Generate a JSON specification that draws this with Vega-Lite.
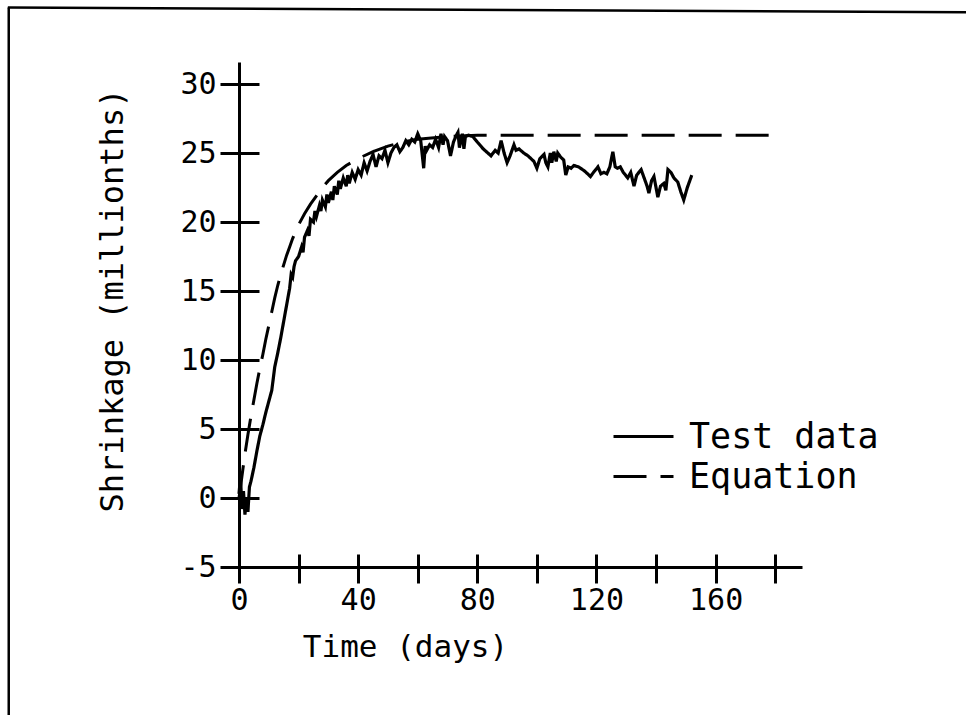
{
  "$schema": "https://vega.github.io/schema/vega-lite/v6.json",
  "autosize": {"type": "none"},
  "padding": {"left": 239, "top": 62, "right": 164, "bottom": 148},
  "width": 563,
  "height": 505,
  "background": "white",
  "config": {
    "font": "DejaVu Sans Mono",
    "view": {"stroke": null},
    "axis": {
      "labelFont": "DejaVu Sans Mono",
      "titleFont": "DejaVu Sans Mono",
      "labelColor": "black",
      "titleColor": "black",
      "tickColor": "black",
      "domainColor": "black",
      "grid": false,
      "titleFontWeight": "normal"
    }
  },
  "datasets": {
    "lines": [
      {"day": 0, "shrinkage": 0.3, "series": "Test data"},
      {"day": 0.5, "shrinkage": 1.5, "series": "Test data"},
      {"day": 1, "shrinkage": -0.8, "series": "Test data"},
      {"day": 1.5, "shrinkage": 0.5, "series": "Test data"},
      {"day": 2, "shrinkage": -1.2, "series": "Test data"},
      {"day": 2.5, "shrinkage": 0, "series": "Test data"},
      {"day": 3, "shrinkage": -1, "series": "Test data"},
      {"day": 3.5, "shrinkage": 0.8, "series": "Test data"},
      {"day": 4, "shrinkage": 1.2, "series": "Test data"},
      {"day": 5, "shrinkage": 2.2, "series": "Test data"},
      {"day": 6, "shrinkage": 3.4, "series": "Test data"},
      {"day": 7, "shrinkage": 4.5, "series": "Test data"},
      {"day": 8, "shrinkage": 5.3, "series": "Test data"},
      {"day": 9, "shrinkage": 6.2, "series": "Test data"},
      {"day": 10, "shrinkage": 7.0, "series": "Test data"},
      {"day": 11, "shrinkage": 7.8, "series": "Test data"},
      {"day": 12, "shrinkage": 9.5, "series": "Test data"},
      {"day": 12.5, "shrinkage": 10.0, "series": "Test data"},
      {"day": 13, "shrinkage": 10.5, "series": "Test data"},
      {"day": 14, "shrinkage": 11.6, "series": "Test data"},
      {"day": 15, "shrinkage": 12.8, "series": "Test data"},
      {"day": 16, "shrinkage": 14.0, "series": "Test data"},
      {"day": 17, "shrinkage": 15.2, "series": "Test data"},
      {"day": 17.5, "shrinkage": 16.2, "series": "Test data"},
      {"day": 18, "shrinkage": 16.0, "series": "Test data"},
      {"day": 18.5, "shrinkage": 16.8, "series": "Test data"},
      {"day": 19, "shrinkage": 17.2, "series": "Test data"},
      {"day": 20, "shrinkage": 17.5, "series": "Test data"},
      {"day": 21, "shrinkage": 18.2, "series": "Test data"},
      {"day": 21.5, "shrinkage": 17.8, "series": "Test data"},
      {"day": 22, "shrinkage": 18.9, "series": "Test data"},
      {"day": 23, "shrinkage": 19.4, "series": "Test data"},
      {"day": 23.5, "shrinkage": 19.0, "series": "Test data"},
      {"day": 24, "shrinkage": 20.2, "series": "Test data"},
      {"day": 25, "shrinkage": 20.0, "series": "Test data"},
      {"day": 25.5, "shrinkage": 20.8, "series": "Test data"},
      {"day": 26, "shrinkage": 20.4, "series": "Test data"},
      {"day": 27, "shrinkage": 21.2, "series": "Test data"},
      {"day": 27.5, "shrinkage": 20.8, "series": "Test data"},
      {"day": 28, "shrinkage": 21.6, "series": "Test data"},
      {"day": 29, "shrinkage": 21.1, "series": "Test data"},
      {"day": 29.5, "shrinkage": 22.0, "series": "Test data"},
      {"day": 30, "shrinkage": 21.4, "series": "Test data"},
      {"day": 31, "shrinkage": 22.2, "series": "Test data"},
      {"day": 31.5, "shrinkage": 21.6, "series": "Test data"},
      {"day": 32, "shrinkage": 22.6, "series": "Test data"},
      {"day": 33, "shrinkage": 22.0, "series": "Test data"},
      {"day": 33.5, "shrinkage": 23.0, "series": "Test data"},
      {"day": 34, "shrinkage": 22.4, "series": "Test data"},
      {"day": 35, "shrinkage": 23.2, "series": "Test data"},
      {"day": 36, "shrinkage": 22.6, "series": "Test data"},
      {"day": 36.5, "shrinkage": 23.4, "series": "Test data"},
      {"day": 37, "shrinkage": 22.8, "series": "Test data"},
      {"day": 38, "shrinkage": 23.6, "series": "Test data"},
      {"day": 39, "shrinkage": 23.1, "series": "Test data"},
      {"day": 40, "shrinkage": 23.8, "series": "Test data"},
      {"day": 41, "shrinkage": 23.4, "series": "Test data"},
      {"day": 42, "shrinkage": 24.3, "series": "Test data"},
      {"day": 43, "shrinkage": 23.7, "series": "Test data"},
      {"day": 44, "shrinkage": 24.4, "series": "Test data"},
      {"day": 45, "shrinkage": 24.9, "series": "Test data"},
      {"day": 46, "shrinkage": 24.0, "series": "Test data"},
      {"day": 47, "shrinkage": 24.8, "series": "Test data"},
      {"day": 48, "shrinkage": 24.6, "series": "Test data"},
      {"day": 49, "shrinkage": 25.2, "series": "Test data"},
      {"day": 50, "shrinkage": 24.3, "series": "Test data"},
      {"day": 51, "shrinkage": 25.0, "series": "Test data"},
      {"day": 52, "shrinkage": 25.4, "series": "Test data"},
      {"day": 53, "shrinkage": 25.6, "series": "Test data"},
      {"day": 54, "shrinkage": 25.1, "series": "Test data"},
      {"day": 55, "shrinkage": 25.4, "series": "Test data"},
      {"day": 56, "shrinkage": 25.9, "series": "Test data"},
      {"day": 57, "shrinkage": 25.6, "series": "Test data"},
      {"day": 58, "shrinkage": 26.0, "series": "Test data"},
      {"day": 59, "shrinkage": 25.8, "series": "Test data"},
      {"day": 60, "shrinkage": 26.4, "series": "Test data"},
      {"day": 61, "shrinkage": 25.9, "series": "Test data"},
      {"day": 62, "shrinkage": 23.9, "series": "Test data"},
      {"day": 62.5, "shrinkage": 25.5, "series": "Test data"},
      {"day": 63, "shrinkage": 25.2, "series": "Test data"},
      {"day": 64, "shrinkage": 25.6, "series": "Test data"},
      {"day": 65, "shrinkage": 25.4, "series": "Test data"},
      {"day": 66, "shrinkage": 26.0, "series": "Test data"},
      {"day": 67, "shrinkage": 25.4, "series": "Test data"},
      {"day": 67.8, "shrinkage": 26.4, "series": "Test data"},
      {"day": 68.5, "shrinkage": 25.6, "series": "Test data"},
      {"day": 69, "shrinkage": 26.2, "series": "Test data"},
      {"day": 70, "shrinkage": 25.9, "series": "Test data"},
      {"day": 71, "shrinkage": 24.8, "series": "Test data"},
      {"day": 72, "shrinkage": 25.8, "series": "Test data"},
      {"day": 73, "shrinkage": 26.3, "series": "Test data"},
      {"day": 73.5, "shrinkage": 26.5, "series": "Test data"},
      {"day": 74, "shrinkage": 25.4, "series": "Test data"},
      {"day": 75, "shrinkage": 26.4, "series": "Test data"},
      {"day": 75.5, "shrinkage": 25.3, "series": "Test data"},
      {"day": 76, "shrinkage": 26.2, "series": "Test data"},
      {"day": 77, "shrinkage": 26.3, "series": "Test data"},
      {"day": 78.5, "shrinkage": 26.2, "series": "Test data"},
      {"day": 80, "shrinkage": 25.8, "series": "Test data"},
      {"day": 82, "shrinkage": 25.3, "series": "Test data"},
      {"day": 84.6, "shrinkage": 24.8, "series": "Test data"},
      {"day": 86, "shrinkage": 25.2, "series": "Test data"},
      {"day": 87, "shrinkage": 25.0, "series": "Test data"},
      {"day": 88, "shrinkage": 25.9, "series": "Test data"},
      {"day": 89, "shrinkage": 25.0, "series": "Test data"},
      {"day": 90, "shrinkage": 24.3, "series": "Test data"},
      {"day": 91, "shrinkage": 24.8, "series": "Test data"},
      {"day": 92.3, "shrinkage": 25.6, "series": "Test data"},
      {"day": 93, "shrinkage": 25.2, "series": "Test data"},
      {"day": 94, "shrinkage": 25.3, "series": "Test data"},
      {"day": 95.6, "shrinkage": 25.0, "series": "Test data"},
      {"day": 97, "shrinkage": 24.8, "series": "Test data"},
      {"day": 98, "shrinkage": 24.6, "series": "Test data"},
      {"day": 99, "shrinkage": 24.4, "series": "Test data"},
      {"day": 100, "shrinkage": 23.9, "series": "Test data"},
      {"day": 101, "shrinkage": 24.6, "series": "Test data"},
      {"day": 102.4, "shrinkage": 24.9, "series": "Test data"},
      {"day": 103, "shrinkage": 24.3, "series": "Test data"},
      {"day": 103.7, "shrinkage": 24.0, "series": "Test data"},
      {"day": 104.5, "shrinkage": 25.0, "series": "Test data"},
      {"day": 105, "shrinkage": 24.3, "series": "Test data"},
      {"day": 105.7, "shrinkage": 25.1, "series": "Test data"},
      {"day": 106.5, "shrinkage": 24.4, "series": "Test data"},
      {"day": 107, "shrinkage": 25.0, "series": "Test data"},
      {"day": 108, "shrinkage": 24.7, "series": "Test data"},
      {"day": 109, "shrinkage": 24.5, "series": "Test data"},
      {"day": 109.7, "shrinkage": 23.4, "series": "Test data"},
      {"day": 110.5, "shrinkage": 24.0, "series": "Test data"},
      {"day": 111.5, "shrinkage": 23.9, "series": "Test data"},
      {"day": 112.4, "shrinkage": 24.1, "series": "Test data"},
      {"day": 114, "shrinkage": 24.0, "series": "Test data"},
      {"day": 116, "shrinkage": 23.7, "series": "Test data"},
      {"day": 118, "shrinkage": 23.3, "series": "Test data"},
      {"day": 119, "shrinkage": 23.6, "series": "Test data"},
      {"day": 120.5, "shrinkage": 24.0, "series": "Test data"},
      {"day": 121.5, "shrinkage": 23.5, "series": "Test data"},
      {"day": 122.5, "shrinkage": 23.6, "series": "Test data"},
      {"day": 123.5, "shrinkage": 23.5, "series": "Test data"},
      {"day": 124.5, "shrinkage": 24.0, "series": "Test data"},
      {"day": 125.5, "shrinkage": 25.1, "series": "Test data"},
      {"day": 126.3, "shrinkage": 24.0, "series": "Test data"},
      {"day": 127, "shrinkage": 23.9, "series": "Test data"},
      {"day": 128, "shrinkage": 24.0, "series": "Test data"},
      {"day": 129, "shrinkage": 23.6, "series": "Test data"},
      {"day": 130.5, "shrinkage": 23.2, "series": "Test data"},
      {"day": 131.5, "shrinkage": 23.6, "series": "Test data"},
      {"day": 132.6, "shrinkage": 22.6, "series": "Test data"},
      {"day": 133.5, "shrinkage": 23.4, "series": "Test data"},
      {"day": 135, "shrinkage": 23.8, "series": "Test data"},
      {"day": 136, "shrinkage": 23.2, "series": "Test data"},
      {"day": 137, "shrinkage": 22.6, "series": "Test data"},
      {"day": 137.6, "shrinkage": 22.1, "series": "Test data"},
      {"day": 138.5, "shrinkage": 23.0, "series": "Test data"},
      {"day": 139.3, "shrinkage": 23.3, "series": "Test data"},
      {"day": 140, "shrinkage": 22.5, "series": "Test data"},
      {"day": 140.6, "shrinkage": 21.8, "series": "Test data"},
      {"day": 141.5, "shrinkage": 22.6, "series": "Test data"},
      {"day": 142.6, "shrinkage": 22.8, "series": "Test data"},
      {"day": 143.3, "shrinkage": 22.3, "series": "Test data"},
      {"day": 144, "shrinkage": 23.8, "series": "Test data"},
      {"day": 145, "shrinkage": 23.6, "series": "Test data"},
      {"day": 146, "shrinkage": 23.2, "series": "Test data"},
      {"day": 147.3, "shrinkage": 22.9, "series": "Test data"},
      {"day": 148.3, "shrinkage": 22.2, "series": "Test data"},
      {"day": 149.3, "shrinkage": 21.6, "series": "Test data"},
      {"day": 150.5, "shrinkage": 22.5, "series": "Test data"},
      {"day": 152, "shrinkage": 23.4, "series": "Test data"},
      {"day": 0, "shrinkage": 0, "series": "Equation"},
      {"day": 1, "shrinkage": 1.6, "series": "Equation"},
      {"day": 2, "shrinkage": 3.2, "series": "Equation"},
      {"day": 3, "shrinkage": 4.6, "series": "Equation"},
      {"day": 4, "shrinkage": 5.9, "series": "Equation"},
      {"day": 5, "shrinkage": 7.1, "series": "Equation"},
      {"day": 6, "shrinkage": 8.3, "series": "Equation"},
      {"day": 7, "shrinkage": 9.4, "series": "Equation"},
      {"day": 8, "shrinkage": 10.4, "series": "Equation"},
      {"day": 9, "shrinkage": 11.5, "series": "Equation"},
      {"day": 10, "shrinkage": 12.5, "series": "Equation"},
      {"day": 11, "shrinkage": 13.5, "series": "Equation"},
      {"day": 12, "shrinkage": 14.5, "series": "Equation"},
      {"day": 13, "shrinkage": 15.4, "series": "Equation"},
      {"day": 14, "shrinkage": 16.2, "series": "Equation"},
      {"day": 15, "shrinkage": 16.9, "series": "Equation"},
      {"day": 16, "shrinkage": 17.6, "series": "Equation"},
      {"day": 17, "shrinkage": 18.2, "series": "Equation"},
      {"day": 18, "shrinkage": 18.8, "series": "Equation"},
      {"day": 20, "shrinkage": 19.8, "series": "Equation"},
      {"day": 22, "shrinkage": 20.6, "series": "Equation"},
      {"day": 24, "shrinkage": 21.3, "series": "Equation"},
      {"day": 26, "shrinkage": 21.9, "series": "Equation"},
      {"day": 28, "shrinkage": 22.5, "series": "Equation"},
      {"day": 30, "shrinkage": 23.0, "series": "Equation"},
      {"day": 33, "shrinkage": 23.6, "series": "Equation"},
      {"day": 36, "shrinkage": 24.1, "series": "Equation"},
      {"day": 40, "shrinkage": 24.6, "series": "Equation"},
      {"day": 45, "shrinkage": 25.1, "series": "Equation"},
      {"day": 50, "shrinkage": 25.5, "series": "Equation"},
      {"day": 55, "shrinkage": 25.8, "series": "Equation"},
      {"day": 60, "shrinkage": 26.0, "series": "Equation"},
      {"day": 70, "shrinkage": 26.2, "series": "Equation"},
      {"day": 80, "shrinkage": 26.3, "series": "Equation"},
      {"day": 100, "shrinkage": 26.3, "series": "Equation"},
      {"day": 130, "shrinkage": 26.3, "series": "Equation"},
      {"day": 160, "shrinkage": 26.3, "series": "Equation"},
      {"day": 181, "shrinkage": 26.3, "series": "Equation"}
    ]
  },
  "layer": [
    {
      "data": {"values": [{}]},
      "mark": {"type": "rule", "stroke": "black", "strokeWidth": 2.5},
      "encoding": {
        "x": {"datum": -77.6, "type": "quantitative", "axis": null},
        "x2": {"datum": 244.1},
        "y": {"datum": 35.55, "type": "quantitative", "axis": null},
        "y2": {"datum": 35.2}
      }
    },
    {
      "data": {"values": [{}]},
      "mark": {"type": "rule", "stroke": "black", "strokeWidth": 2.5},
      "encoding": {
        "x": {"datum": -77.3, "type": "quantitative", "axis": null},
        "y": {"datum": 35.55, "type": "quantitative", "axis": null},
        "y2": {"datum": -15.8}
      }
    },
    {
      "data": {"name": "lines"},
      "transform": [{"filter": "datum.series === 'Test data'"}],
      "mark": {"type": "line", "stroke": "black", "strokeWidth": 3.2, "strokeJoin": "miter"},
      "encoding": {
        "x": {
          "field": "day",
          "type": "quantitative",
          "scale": {"domain": [0, 189], "nice": false, "zero": false},
          "axis": {
            "orient": "bottom",
            "values": [0, 20, 40, 60, 80, 100, 120, 140, 160, 180],
            "labelExpr": "datum.value % 40 === 0 ? datum.label : ''",
            "offset": -13,
            "tickSize": 29,
            "tickWidth": 3,
            "domain": false,
            "labelFontSize": 30,
            "labelPadding": 2,
            "labelFlush": false,
            "labelOverlap": false,
            "title": "Time (days)",
            "titleFontSize": 31,
            "titleX": 166,
            "titleY": 102,
            "titleAlign": "center",
            "titleBaseline": "alphabetic",
            "titleAnchor": null
          }
        },
        "y": {
          "field": "shrinkage",
          "type": "quantitative",
          "scale": {"domain": [-5, 31.6], "nice": false, "zero": false},
          "axis": {
            "orient": "left",
            "values": [-5, 0, 5, 10, 15, 20, 25, 30],
            "labelExpr": "replace(datum.label, '\u2212', '-')",
            "offset": -20,
            "tickSize": 39,
            "tickWidth": 3,
            "domain": false,
            "labelFontSize": 30,
            "labelPadding": 4,
            "labelOverlap": false,
            "title": "Shrinkage (millionths)",
            "titleFontSize": 32,
            "titleAngle": -90,
            "titleX": -137,
            "titleY": 238,
            "titleAlign": "center",
            "titleBaseline": "alphabetic"
          }
        },
        "strokeDash": {
          "field": "series",
          "type": "nominal",
          "scale": {"domain": ["Test data", "Equation"], "range": [[1, 0], [33, 14]]},
          "legend": {
            "orient": "none",
            "legendX": 387,
            "legendY": 357,
            "title": null,
            "padding": 0,
            "rowPadding": 4,
            "symbolType": "M-3,0H3",
            "symbolSize": 400,
            "symbolStrokeWidth": 3,
            "symbolStrokeColor": "black",
            "symbolFillColor": "transparent",
            "labelFont": "DejaVu Sans Mono",
            "labelFontSize": 35,
            "labelColor": "black",
            "labelOffset": 28,
            "labelLimit": 400
          }
        }
      }
    },
    {
      "data": {"name": "lines"},
      "transform": [{"filter": "datum.series === 'Equation'"}],
      "mark": {"type": "line", "stroke": "black", "strokeWidth": 3},
      "encoding": {
        "x": {
          "field": "day",
          "type": "quantitative",
          "axis": {"orient": "bottom", "domain": true, "domainWidth": 3, "ticks": false, "labels": false, "title": null}
        },
        "y": {
          "field": "shrinkage",
          "type": "quantitative",
          "axis": {"orient": "left", "domain": true, "domainWidth": 3, "ticks": false, "labels": false, "title": null}
        },
        "strokeDash": {
          "field": "series",
          "type": "nominal",
          "legend": {
            "orient": "none",
            "legendX": 387,
            "legendY": 357,
            "title": null,
            "padding": 0,
            "rowPadding": 4,
            "symbolType": "M-3,0H3",
            "symbolSize": 400,
            "symbolStrokeWidth": 3,
            "symbolStrokeColor": "black",
            "symbolFillColor": "transparent",
            "labelFont": "DejaVu Sans Mono",
            "labelFontSize": 35,
            "labelColor": "black",
            "labelOffset": 28,
            "labelLimit": 400
          }
        }
      }
    }
  ],
  "resolve": {"axis": {"x": "independent", "y": "independent"}}
}
